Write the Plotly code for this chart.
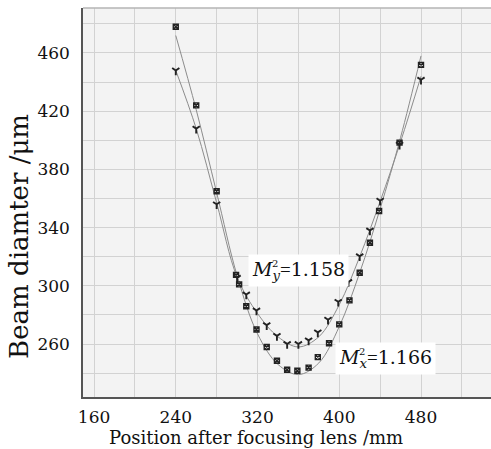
import plotly.graph_objects as go

# Measured beam diameters (um) vs position after focusing lens (mm)
pos_x = [240, 260, 280, 299, 302, 309, 319, 329, 339, 349, 359, 370, 379, 390, 400, 410, 420, 430, 439, 459, 480]
diam_x = [478, 424, 365, 307.5, 301, 286, 270, 258, 248.5, 242.3, 241.6, 243.8, 251, 260.5, 273.5, 290, 309, 329.6, 351.4, 398.4, 451.8]

pos_y = [240, 260, 280, 300, 309, 319, 329, 339, 349, 360, 370, 379, 389, 399, 409, 420, 430, 440, 459, 480]
diam_y = [448, 408, 356, 305.5, 294, 283, 273, 265.6, 260, 260, 262.5, 268, 276.7, 289, 302.6, 320.3, 338, 358.5, 397, 441.6]

# Fitted curves
fit_pos = [240, 260, 280, 300, 320, 340, 360, 380, 400, 420, 440, 460, 480]
fit_x = [472, 421, 364, 307, 267, 246, 239, 247, 272, 309, 353, 402, 458]
fit_y = [448, 408, 357, 306, 281, 265, 258, 265, 287, 320, 358, 399, 444]

m2_x = "1.166"
m2_y = "1.158"

x_ticks = [160, 240, 320, 400, 480]
y_ticks = [260, 300, 340, 380, 420, 460]

FONT = "DejaVu Serif"
X0, X1 = 149.2, 548.5
Y0, Y1 = 223.6, 490.9

fig = go.Figure()
line_col = "#8c8c8c"
fig.add_trace(go.Scatter(x=fit_pos, y=fit_x, mode="lines", line=dict(color=line_col, width=1, shape="spline"),
                         showlegend=False, hoverinfo="skip"))
fig.add_trace(go.Scatter(x=fit_pos, y=fit_y, mode="lines", line=dict(color=line_col, width=1, shape="spline"),
                         showlegend=False, hoverinfo="skip"))
fig.add_trace(go.Scatter(x=pos_x, y=diam_x, mode="markers",
                         marker=dict(symbol="square-x-open", size=5, color="#222", line=dict(width=1.4, color="#222")),
                         showlegend=False))
fig.add_trace(go.Scatter(x=pos_y, y=diam_y, mode="markers",
                         marker=dict(symbol="y-down", size=6, color="#222", line=dict(width=1.9, color="#222")),
                         showlegend=False))

grid_col = "#d2d2d2"
fig.update_xaxes(range=[X0, X1], tickvals=x_ticks, ticktext=[str(v) for v in x_ticks],
                 showgrid=True, gridcolor=grid_col, gridwidth=1, automargin=False,
                 minor=dict(tickvals=[200, 280, 360, 440, 520], showgrid=True, gridcolor=grid_col, gridwidth=1),
                 showline=True, linecolor="#555555", linewidth=1.5, zeroline=False, ticks="",
                 tickfont=dict(family=FONT, size=17, color="#111"), ticklabelstandoff=4)
fig.update_yaxes(range=[Y0, Y1], tickvals=y_ticks, ticktext=[str(v) for v in y_ticks],
                 showgrid=True, gridcolor=grid_col, gridwidth=1, automargin=False,
                 minor=dict(tickvals=[240, 280, 320, 360, 400, 440, 480], showgrid=True, gridcolor=grid_col, gridwidth=1),
                 showline=True, linecolor="#555555", linewidth=1.5, zeroline=False, ticks="",
                 tickfont=dict(family=FONT, size=17, color="#111"), ticklabelstandoff=8)

EQ = "<span style='font-family:Liberation Serif'>=</span>"
anns = []
# axis titles
anns.append(dict(text="Position after focusing lens /mm", xref="paper", yref="paper", x=0.425, y=-0.105,
                 showarrow=False, font=dict(family=FONT, size=18, color="#111"), xanchor="center", yanchor="middle"))
anns.append(dict(text="Beam diamter /μm", xref="paper", yref="paper", x=-0.157, y=0.414, textangle=-90,
                 showarrow=False, font=dict(family=FONT, size=26, color="#111"), xanchor="center", yanchor="middle"))
# M^2 labels
anns.append(dict(text="<i>M</i><sub><i>y</i></sub>" + EQ + m2_y, x=310.6, y=310.5, xref="x", yref="y",
                 xanchor="left", yanchor="middle", showarrow=False, bgcolor="white", borderpad=3,
                 font=dict(family=FONT, size=19, color="#111")))
anns.append(dict(text="2", x=337.5, y=315.5, xref="x", yref="y", xanchor="center", yanchor="middle",
                 showarrow=False, font=dict(family=FONT, size=10, color="#111")))
anns.append(dict(text="<i>M</i><sub><i>x</i></sub>" + EQ + m2_x, x=395.8, y=249.9, xref="x", yref="y",
                 xanchor="left", yanchor="middle", showarrow=False, bgcolor="white", borderpad=3,
                 font=dict(family=FONT, size=19, color="#111")))
anns.append(dict(text="2", x=422.5, y=255.0, xref="x", yref="y", xanchor="center", yanchor="middle",
                 showarrow=False, font=dict(family=FONT, size=10, color="#111")))

fig.update_layout(width=491, height=449, margin=dict(l=83, r=0, t=8, b=52, autoexpand=False),
                  paper_bgcolor="white", plot_bgcolor="#f3f3f3", annotations=anns,
                  shapes=[dict(type="line", xref="paper", yref="paper", x0=0, x1=1, y0=1, y1=1,
                               line=dict(color="#b5b5b5", width=1.5))])

fig.write_html("out.html", config={"displayModeBar": False},
               post_script="document.body.style.margin='0';document.body.style.overflow='hidden';")
